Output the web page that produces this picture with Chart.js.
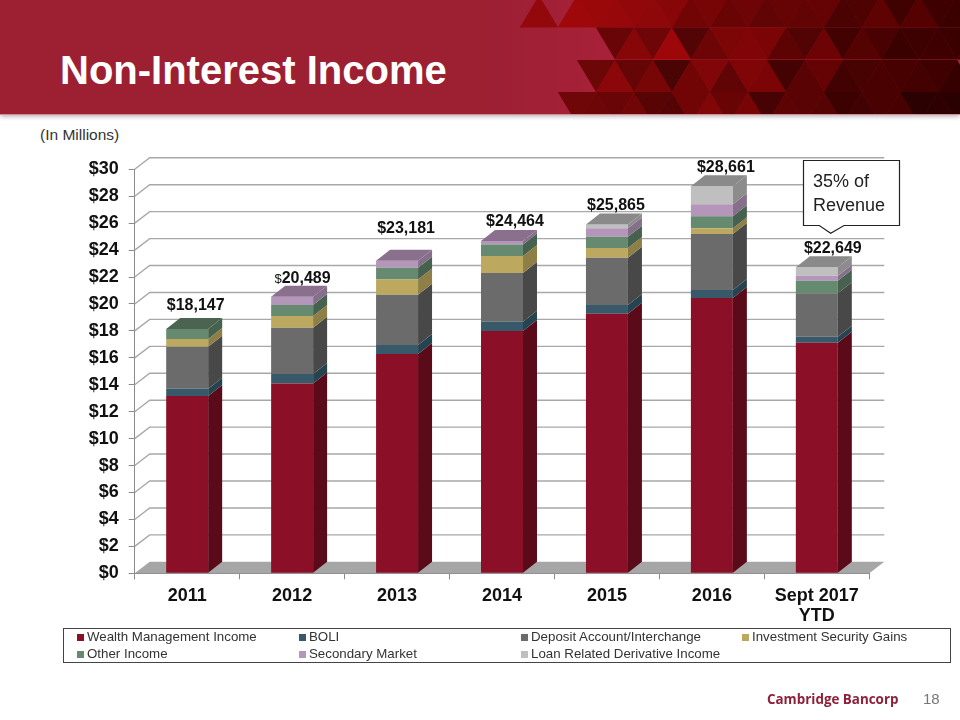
<!DOCTYPE html>
<html>
<head>
<meta charset="utf-8">
<title>Non-Interest Income</title>
<script src="https://cdn.jsdelivr.net/npm/chart.js@4"></script>
<style>
    html, body { margin: 0; padding: 0; background: #fff; }
    body { width: 960px; height: 720px; position: relative; overflow: hidden; font-family: "Liberation Sans", Arial, sans-serif; }
    #banner { position: absolute; left: 0; top: 0; width: 960px; height: 114px; background: linear-gradient(90deg, #9c1f32 0%, #9c1f32 50%, #a8213a 65%); box-shadow: 0 1px 5px rgba(0,0,0,.35); border-bottom: 1px solid #d98a96; box-sizing: content-box; }
    #mosaico { position: absolute; left: 0; top: 0; }
    #titulo { position: absolute; left: 60px; top: 48px; font-size: 40px; line-height: 44px; font-weight: bold; color: #fff; white-space: nowrap; }
    #unidad { position: absolute; left: 40px; top: 126px; font-size: 15.5px; line-height: 17px; color: #333; }
    #grafica { position: absolute; left: 0; top: 0; }
    #callout { position: absolute; left: 0; top: 0; }
    #leyenda { position: absolute; left: 63px; top: 628px; width: 886px; height: 33px; border: 1.3px solid #444; }
    #leyenda span { position: absolute; font-size: 13.3px; line-height: 16px; color: #333; white-space: nowrap; }
    #leyenda i { position: absolute; width: 7px; height: 7px; }
    #marca { position: absolute; left: 767px; top: 690px; font-family: "Open Sans", sans-serif; font-size: 13.4px; line-height: 18px; font-weight: bold; color: #8e2139; white-space: nowrap; }
    #pagina { position: absolute; left: 923px; top: 690px; font-size: 15px; line-height: 18px; color: #777; }
</style>
</head>
<body>
<div id="banner"></div>
<svg id="mosaico" width="960" height="114"></svg>
<div id="titulo">Non-Interest Income</div>
<div id="unidad">(In Millions)</div>
<canvas id="grafica" width="960" height="720"></canvas>
<svg id="callout" width="960" height="720">
    <path d="M803.5 160.5 H899.5 V225.5 H844 L830.7 233.3 L819.3 225.5 H803.5 Z" fill="#fff" stroke="#222" stroke-width="1.2"/>
    <text x="813" y="187" font-size="18" fill="#222" font-family="Liberation Sans, Arial, sans-serif">35% of</text>
    <text x="813" y="211" font-size="18" fill="#222" font-family="Liberation Sans, Arial, sans-serif">Revenue</text>
</svg>
<div id="leyenda"></div>
<div id="marca">Cambridge Bancorp</div>
<div id="pagina">18</div>

<script>
// Datos (millones)
const categorias = ['2011', '2012', '2013', '2014', '2015', '2016', ['Sept 2017', 'YTD']];
const totales = ['$18,147', '$20,489', '$23,181', '$24,464', '$25,865', '$28,661', '$22,649'];
const wealth = [13.16, 14.10, 16.28, 17.99, 19.27, 20.44, 17.12];
const boli = [0.54, 0.70, 0.67, 0.69, 0.65, 0.59, 0.44];
const deposit = [3.12, 3.43, 3.73, 3.62, 3.51, 4.17, 3.24];
const gains = [0.57, 0.87, 1.14, 1.26, 0.72, 0.43, 0];
const other = [0.75, 0.82, 0.87, 0.86, 0.85, 0.89, 0.92];
const secondary = [0, 0.61, 0.51, 0.25, 0.63, 0.88, 0.37];
const loan = [0, 0, 0, 0, 0.27, 1.35, 0.64];

const nombres = ['Wealth Management Income', 'BOLI', 'Deposit Account/Interchange', 'Investment Security Gains', 'Other Income', 'Secondary Market', 'Loan Related Derivative Income'];
const series = [wealth, boli, deposit, gains, other, secondary, loan];

const colores = ['#8b0f27', '#38596a', '#6b6b6b', '#bca95f', '#668a6f', '#b396b9', '#bfbfbf'];
const coloresLado = ['#5b0a1a', '#264350', '#484848', '#8d7f45', '#46614d', '#856f8a', '#8c8c8c'];
const coloresTapa = ['#70101f', '#2e4c5a', '#585858', '#a09050', '#4b6451', '#8b708e', '#8a8a8a'];

// Ajuste manual de las etiquetas de total (como en la diapositiva)
const etiquetaDx = [8.5, 10, 9, 13, 9, 14, 16];
const etiquetaLift = [12, 7, 21, 8, 8, 8, 8];

const fondoX = 15;   // profundidad del efecto 3D
const fondoY = 11.5;

// Pared del fondo y suelo
const paredPlugin = {
    id: 'pared',
    beforeDatasetsDraw(chart) {
        const c = chart.ctx;
        const y = chart.scales.y;
        const x = chart.scales.x;
        c.save();
        c.fillStyle = '#a6a6a6';
        c.beginPath();
        c.moveTo(x.left, y.bottom);
        c.lineTo(x.left + fondoX, y.bottom - fondoY);
        c.lineTo(x.right + fondoX, y.bottom - fondoY);
        c.lineTo(x.right, y.bottom);
        c.closePath();
        c.fill();

        c.strokeStyle = '#a8a8a8';
        c.lineWidth = 1.4;
        y.ticks.forEach(t => {
            if (t.value === 0) return;
            const py = y.getPixelForValue(t.value);
            c.beginPath();
            c.moveTo(x.left, py);
            c.lineTo(x.left + fondoX, py - fondoY);
            c.lineTo(x.right + fondoX, py - fondoY);
            c.stroke();
        });
        c.restore();
    }
};

// Caras laterales y tapa de cada barra
const barras3d = {
    id: 'barras3d',
    afterDatasetsDraw(chart) {
        const c = chart.ctx;
        const dx = 14;
        const dy = 11;
        c.save();
        series.forEach((vals, s) => {
            const meta = chart.getDatasetMeta(s);
            meta.data.forEach((b, i) => {
                if (!vals[i]) return;
                const der = b.x + b.width / 2;
                c.fillStyle = coloresLado[s];
                c.beginPath();
                c.moveTo(der, b.base);
                c.lineTo(der, b.y);
                c.lineTo(der + dx, b.y - dy);
                c.lineTo(der + dx, b.base - dy);
                c.closePath();
                c.fill();
                // la tapa solo en el último tramo con valor
                const hayMas = series.slice(s + 1).some(v => v[i] > 0);
                if (!hayMas) {
                    const izq = b.x - b.width / 2;
                    c.fillStyle = coloresTapa[s];
                    c.beginPath();
                    c.moveTo(izq, b.y);
                    c.lineTo(der, b.y);
                    c.lineTo(der + dx, b.y - dy);
                    c.lineTo(izq + dx, b.y - dy);
                    c.closePath();
                    c.fill();
                }
            });
        });
        c.restore();
    }
};

// Totales encima de cada barra
const totalesPlugin = {
    id: 'totales',
    afterDraw(chart) {
        const c = chart.ctx;
        const y = chart.scales.y;
        c.save();
        c.textBaseline = 'middle';
        c.fillStyle = '#111';
        totales.forEach((txt, i) => {
            const suma = series.reduce((a, v) => a + v[i], 0);
            const cx = chart.scales.x.getPixelForValue(i) + etiquetaDx[i];
            const cy = y.getPixelForValue(suma) - 11 - etiquetaLift[i];
            c.font = 'bold 16px "Liberation Sans", Arial, sans-serif';
            if (i === 1) {
                // en 2012 el signo $ va más pequeño en el original
                const resto = txt.slice(1);
                const w = c.measureText(resto).width;
                c.textAlign = 'left';
                c.fillText(resto, cx - w / 2 + 4, cy);
                c.font = '13px "Liberation Sans", Arial, sans-serif';
                c.textAlign = 'right';
                c.fillText('$', cx - w / 2 + 4, cy + 1);
            } else {
                c.textAlign = 'center';
                c.fillText(txt, cx, cy);
            }
        });
        c.restore();
    }
};

new Chart(document.getElementById('grafica').getContext('2d'), {
    type: 'bar',
    data: {
        labels: categorias,
        datasets: series.map((vals, s) => ({
            label: nombres[s],
            data: vals,
            backgroundColor: colores[s],
            borderWidth: 0,
            barPercentage: 0.4,
            categoryPercentage: 1
        }))
    },
    options: {
        responsive: false,
        animation: false,
        layout: { padding: { left: 0, top: 169.3, right: 90.7, bottom: 60 } },
        plugins: { legend: { display: false }, tooltip: { enabled: false } },
        scales: {
            x: {
                stacked: true,
                afterFit: s => { s.height = 86.7; },
                grid: { drawOnChartArea: false, drawTicks: true, tickLength: 6, color: '#8a8a8a', offset: true },
                border: { color: '#8a8a8a' },
                ticks: {
                    maxRotation: 0,
                    autoSkip: false,
                    padding: 7,
                    color: '#111',
                    font: { family: '"Liberation Sans", Arial, sans-serif', size: 18, weight: 'bold', lineHeight: 1.1 }
                }
            },
            y: {
                stacked: true,
                min: 0,
                max: 30,
                afterFit: s => { s.width = 134.7; },
                grid: { drawOnChartArea: false, drawTicks: true, tickLength: 6, color: '#8a8a8a' },
                border: { color: '#8a8a8a' },
                ticks: {
                    stepSize: 2,
                    padding: 10,
                    color: '#111',
                    font: { family: '"Liberation Sans", Arial, sans-serif', size: 18, weight: 'bold' },
                    callback: v => '$' + v
                }
            }
        }
    },
    plugins: [paredPlugin, barras3d, totalesPlugin]
});

// Leyenda en columnas
const leyenda = document.getElementById('leyenda');
const columnas = [13, 235, 457, 678];
const filas = [0, 17];
nombres.forEach((nombre, n) => {
    const col = columnas[n % 4];
    const fila = filas[Math.floor(n / 4)];
    const cuadro = document.createElement('i');
    cuadro.style.left = col + 'px';
    cuadro.style.top = (fila + 5) + 'px';
    cuadro.style.background = colores[n];
    leyenda.appendChild(cuadro);
    const txt = document.createElement('span');
    txt.style.left = (col + 10) + 'px';
    txt.style.top = fila + 'px';
    txt.textContent = nombre;
    leyenda.appendChild(txt);
});

// Mosaico de triángulos de la cabecera
const filasMosaico = [
    { y: -4.5, x0: 577, arriba: true,  tonos: '77777756565667458485536665' },
    { y: 27.5, x0: 615, arriba: false, tonos: '3649257885483653455555' },
    { y: 60,   x0: 596, arriba: false, tonos: '36351574882573455554' },
    { y: 92,   x0: 577, arriba: false, tonos: '333422575725552355122' }
];
const svg = document.getElementById('mosaico');
function triangulo(cx, y, arriba, tono) {
    const t = Math.max(0, Math.min(1, (cx - 580) / 380));
    const f = 0.5 + 0.08 * tono;
    const r = Math.round((150 - 85 * t) * f);
    const g = Math.round(8 * (1 - t) * f);
    const b = Math.round(10 * (1 - t) * f);
    const p = document.createElementNS('http://www.w3.org/2000/svg', 'polygon');
    const alto = 32;
    const pts = arriba
        ? [[cx, y], [cx - 19.2, y + alto], [cx + 19.2, y + alto]]
        : [[cx - 19.2, y], [cx + 19.2, y], [cx, y + alto]];
    p.setAttribute('points', pts.map(q => q.join(',')).join(' '));
    p.setAttribute('fill', 'rgb(' + r + ',' + g + ',' + b + ')');
    svg.appendChild(p);
}
triangulo(539, -4.5, true, 6);
filasMosaico.forEach(f => {
    for (let i = 0; i < f.tonos.length; i++) {
        const arriba = (i % 2 === 0) === f.arriba;
        triangulo(f.x0 + 19 * i, f.y, arriba, Number(f.tonos[i]));
    }
});
</script>
</body>
</html>
